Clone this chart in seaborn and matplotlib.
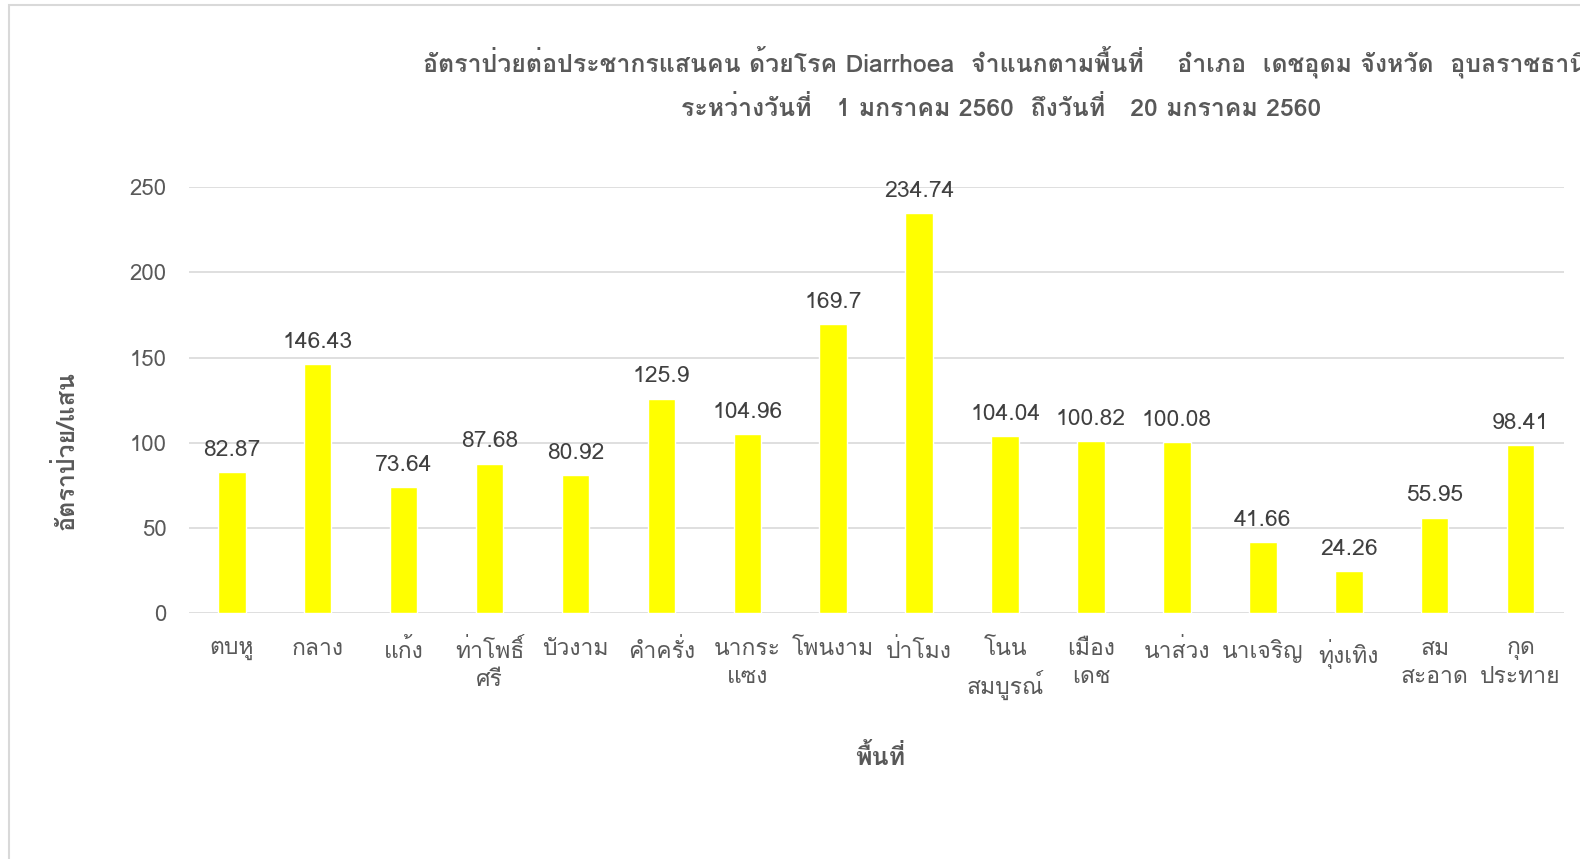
import matplotlib
matplotlib.use("Agg")
import matplotlib.pyplot as plt
import matplotlib.font_manager as fm
from matplotlib.ft2font import FT2Font
from matplotlib.patches import Rectangle
import seaborn as sns

# data
areas = ["ตบหู", "กลาง", "แก้ง", "ท่าโพธิ์\nศรี", "บัวงาม", "คำครั่ง", "นากระ\nแซง",
         "โพนงาม", "ป่าโมง", "โนน\nสมบูรณ์", "เมือง\nเดช", "นาส่วง", "นาเจริญ",
         "ทุ่งเทิง", "สม\nสะอาด", "กุด\nประทาย"]
rates = [82.87, 146.43, 73.64, 87.68, 80.92, 125.9, 104.96, 169.7, 234.74,
         104.04, 100.82, 100.08, 41.66, 24.26, 55.95, 98.41]
value_labels = ["82.87", "146.43", "73.64", "87.68", "80.92", "125.9", "104.96",
                "169.7", "234.74", "104.04", "100.82", "100.08", "41.66", "24.26",
                "55.95", "98.41"]
y_ticks = [0, 50, 100, 150, 200, 250]

title_1 = "อัตราป่วยต่อประชากรแสนคน ด้วยโรค Diarrhoea  จำแนกตามพื้นที่    อำเภอ  เดชอุดม จังหวัด  อุบลราชธานี"
title_2 = "ระหว่างวันที่   1 มกราคม 2560  ถึงวันที่   20 มกราคม 2560"


def find_thai_fonts():
    """List installed families that have Thai glyphs"""
    found = []
    for path in fm.findSystemFonts():
        try:
            cmap = FT2Font(path).get_charmap()
        except Exception:
            continue
        if 0x0E01 in cmap and 0x0E31 in cmap:
            try:
                name = fm.FontProperties(fname=path).get_name()
            except Exception:
                continue
            if name not in found:
                found.append(name)
    return found


# Loma places the tone marks well without text shaping
thai = find_thai_fonts()
preferred = ["Loma", "Waree", "IBM Plex Sans Thai Looped"]
pick = [f for f in preferred if f in thai][:1]

sns.set_theme(style="white")
plt.rcParams["font.family"] = pick + ["DejaVu Sans"]

text_col = "#595959"
grid_col = "#d9d9d9"

fig = plt.figure(figsize=(15.8, 8.59), dpi=100)
ax = fig.add_axes([0.1195, 0.2867, 0.8701, 0.4951])

sns.barplot(x=list(range(len(areas))), y=rates, color="#FFFF00", saturation=1,
            width=0.32, ax=ax)

ax.set_ylim(0, 250)
ax.set_yticks(y_ticks)
ax.set_xlim(-0.5, len(areas) - 0.5)
ax.set_xticks(range(len(areas)))
ax.set_xticklabels(areas, fontsize=16.5, color=text_col, linespacing=1.4)
ax.tick_params(axis="y", labelsize=16, labelcolor=text_col, pad=16, length=0)
ax.tick_params(axis="x", pad=19, length=0)
ax.yaxis.grid(True, color=grid_col, linewidth=1.2)
ax.set_axisbelow(True)
for s in ax.spines.values():
    s.set_visible(False)
ax.set_xlabel("")
ax.set_ylabel("")

ax.bar_label(ax.containers[0], labels=value_labels, padding=8,
             fontsize=16.5, color="#404040")

fig.text(1005 / 1580, 1 - 62 / 859, title_1, ha="center", va="center",
         fontsize=17.9, color=text_col, fontweight="bold")
fig.text(1001 / 1580, 1 - 108 / 859, title_2, ha="center", va="center",
         fontsize=17.9, color=text_col, fontweight="bold")
fig.text(66 / 1580, 1 - 450 / 859, "อัตราป่วย/แสน", rotation=90, ha="center",
         va="center", fontsize=18, color=text_col, fontweight="bold")
fig.text(880 / 1580, 1 - 757 / 859, "พื้นที่", ha="center", va="center",
         fontsize=18, color=text_col, fontweight="bold")

# chart area border
fig.patches.append(Rectangle((9 / 1580, -0.05), 1.1, 1 - 5 / 859 + 0.05,
                             transform=fig.transFigure, fill=False,
                             edgecolor=grid_col, linewidth=1.5))

fig.savefig("out.png", dpi=100)
